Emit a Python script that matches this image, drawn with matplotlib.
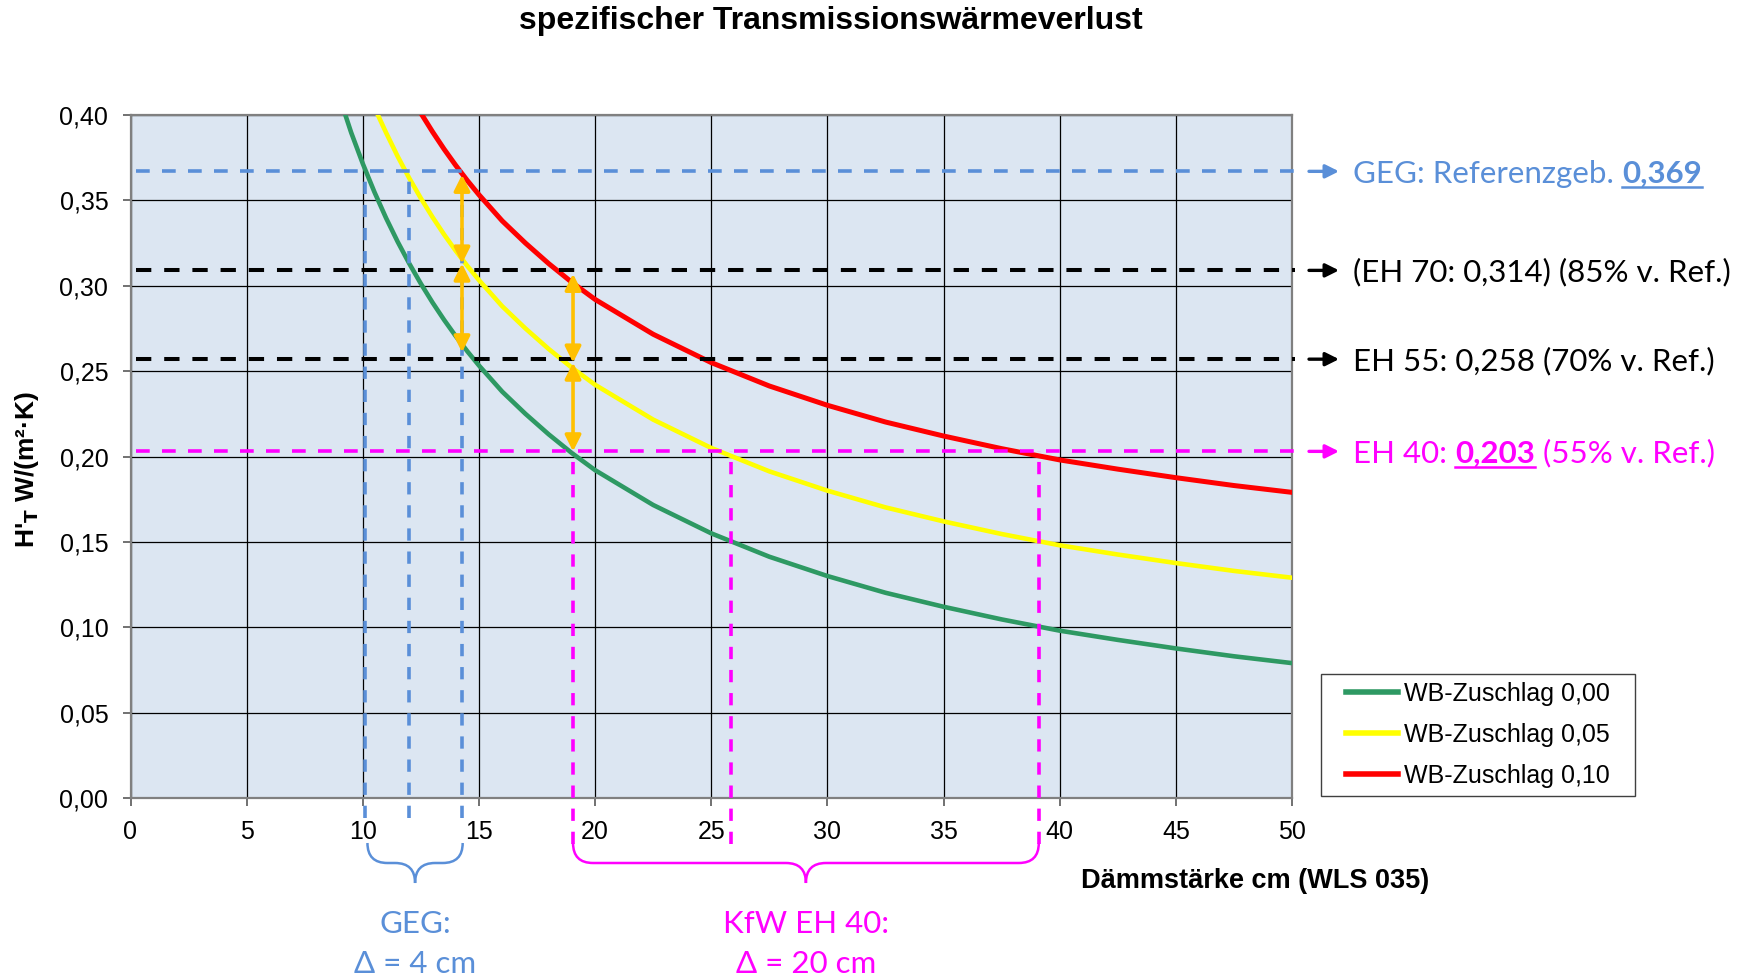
import numpy as np
import matplotlib
matplotlib.use("Agg")
import matplotlib.pyplot as plt
from matplotlib.path import Path
from matplotlib.patches import PathPatch, Rectangle
from matplotlib.lines import Line2D
from matplotlib.ticker import FuncFormatter
from matplotlib.transforms import IdentityTransform

plt.rcParams["font.family"] = ["Liberation Sans", "DejaVu Sans"]

# --- data ---
x_wb000 = [9.25, 9.5, 10, 10.5, 11, 11.5, 12, 12.5, 13, 13.5, 14, 14.5, 15, 16, 17, 18, 19, 20,
           22.5, 25, 27.5, 30, 32.5, 35, 37.5, 40, 42.5, 45, 47.5, 50]
h_wb000 = [0.400, 0.3897, 0.3715, 0.3549, 0.3397, 0.3258, 0.313, 0.3012, 0.2902, 0.280, 0.2705,
           0.2616, 0.2533, 0.238, 0.225, 0.213, 0.202, 0.192,
           0.1716, 0.155, 0.1413, 0.130, 0.1202, 0.112, 0.1046, 0.098, 0.0926, 0.0876, 0.083, 0.079]

x_wb005 = [10.65, 11, 11.5, 12, 12.5, 13, 13.5, 14, 14.5, 15, 16, 17, 18, 19, 20,
           22.5, 25, 27.5, 30, 32.5, 35, 37.5, 40, 42.5, 45, 47.5, 50]
h_wb005 = [0.400, 0.3897, 0.3758, 0.363, 0.3512, 0.3402, 0.330, 0.3205, 0.3116, 0.3033,
           0.288, 0.275, 0.263, 0.252, 0.242,
           0.2216, 0.205, 0.1913, 0.180, 0.1702, 0.162, 0.1546, 0.148, 0.1426, 0.1376, 0.133, 0.129]

x_wb010 = [12.55, 13, 13.5, 14, 14.5, 15, 16, 17, 18, 19, 20,
           22.5, 25, 27.5, 30, 32.5, 35, 37.5, 40, 42.5, 45, 47.5, 50]
h_wb010 = [0.400, 0.3902, 0.380, 0.3705, 0.3616, 0.3533, 0.338, 0.325, 0.313, 0.302, 0.292,
           0.2716, 0.255, 0.2413, 0.230, 0.2202, 0.212, 0.2046, 0.198, 0.1926, 0.1876, 0.183, 0.179]

series_labels = ["WB-Zuschlag 0,00", "WB-Zuschlag 0,05", "WB-Zuschlag 0,10"]

# reference levels (drawn height) and their labels
level_values = [0.367, 0.309, 0.257, 0.203]
level_parts = [
    [("GEG: Referenzgeb. ", "normal", False), ("0,369", "bold", True)],
    [("(EH 70: 0,314) (85% v. Ref.)", "normal", False)],
    [("EH 55: 0,258 (70% v. Ref.)", "normal", False)],
    [("EH 40: ", "normal", False), ("0,203", "bold", True), (" (55% v. Ref.)", "normal", False)],
]

geg_x = [10.1, 12.0, 14.27]      # thicknesses reaching GEG level
kfw_x = [19.05, 25.85, 39.1]     # thicknesses reaching EH 40 level

arrow_x = [14.27, 14.27, 19.05, 19.05]
arrow_y0 = [0.365, 0.313, 0.307, 0.255]
arrow_y1 = [0.313, 0.261, 0.255, 0.203]

brace_specs = [(10.2, 14.3, "GEG:", "Δ = 4 cm"),
               (19.05, 39.1, "KfW EH 40:", "Δ = 20 cm")]

# --- styles ---
GREEN = "#2E9963"
YELLOW = "#FFFF00"
RED = "#FF0000"
BLUE = "#5A8FD8"
MAGENTA = "#FF00FF"
ORANGE = "#FFC000"
level_colors = [BLUE, "black", "black", MAGENTA]
NOTE_FONT = ["Lato", "DejaVu Sans"]
NOTE_SIZE = 22.5

W, H = 1747, 977
fig = plt.figure(figsize=(W / 100, H / 100), dpi=100)
ax = fig.add_axes([130.5 / W, 1 - 798 / H, (1292 - 130.5) / W, (798 - 115) / H])
ax.set_facecolor("#DCE6F2")
ax.set_xlim(0, 50)
ax.set_ylim(0, 0.40)
ax.set_xticks(np.arange(0, 51, 5))
ax.set_yticks(np.arange(0, 0.401, 0.05))
ax.yaxis.set_major_formatter(FuncFormatter(lambda v, p: f"{v:.2f}".replace(".", ",")))
ax.grid(True, color="black", lw=0.9)
ax.set_axisbelow(True)
ax.tick_params(direction="out", length=6, width=1.2, color="#595959", labelsize=18)
ax.tick_params(axis="x", pad=10)
ax.tick_params(axis="y", pad=10)
for s in ax.spines.values():
    s.set_color("#808080")
    s.set_linewidth(1.6)

# curves
ax.plot(x_wb000, h_wb000, color=GREEN, lw=3.3, label=series_labels[0], zorder=3)
ax.plot(x_wb005, h_wb005, color=YELLOW, lw=3.3, label=series_labels[1], zorder=3)
ax.plot(x_wb010, h_wb010, color=RED, lw=3.6, label=series_labels[2], zorder=3)

# vertical markers
for xv in geg_x:
    ax.plot([xv, xv], [-0.012, level_values[0]], color=BLUE, lw=2.6, dashes=(3.4, 3.0),
            clip_on=False, zorder=4)
for xv in kfw_x:
    ax.plot([xv, xv], [-0.027, level_values[3]], color=MAGENTA, lw=2.6, dashes=(3.4, 3.0),
            clip_on=False, zorder=4)

# horizontal reference lines
for lv, c in zip(level_values, level_colors):
    if c == "black":
        lw, dash = 2.9, (3.8, 3.2)
    else:
        lw, dash = 2.6, (3.8, 3.4)
    ax.plot([0.25, 50.15], [lv, lv], color=c, lw=lw, dashes=dash, clip_on=False, zorder=4)

# orange double arrows
for xa, ya, yb in zip(arrow_x, arrow_y0, arrow_y1):
    ax.annotate("", xy=(xa, yb), xytext=(xa, ya),
                arrowprops=dict(arrowstyle="<|-|>", color=ORANGE, lw=2.6,
                                mutation_scale=24, shrinkA=0, shrinkB=0), zorder=6)

# legend: white box drawn separately, entries placed inside it
ax.add_patch(Rectangle((1321 / W, 181 / H), 314 / W, 122 / H, transform=fig.transFigure,
                       facecolor="white", edgecolor="#404040", lw=1.0, clip_on=False, zorder=9))
leg = ax.legend(loc="center", bbox_to_anchor=(1478 / W, 1 - 735 / H),
                bbox_transform=fig.transFigure, fontsize=18, frameon=False,
                borderaxespad=0, borderpad=0, handlelength=2.1, handletextpad=0.25,
                labelspacing=0.68)
leg.set_zorder(10)
for lh in leg.get_lines():
    lh.set_linewidth(4)

# braces below the x axis
px_x = (1292 - 130.5) / 50.0
px_y = (798 - 115) / 0.40
rx = 20 / px_x
ytop, ymid, ytip = -45 / px_y, -65 / px_y, -85 / px_y
for (x0, x1, t1, t2), c in zip(brace_specs, [BLUE, MAGENTA]):
    xc = (x0 + x1) / 2
    verts = [(x0, ytop), (x0, ymid), (x0 + rx, ymid), (xc - rx, ymid), (xc, ymid), (xc, ytip),
             (xc, ymid), (xc + rx, ymid), (x1 - rx, ymid), (x1, ymid), (x1, ytop)]
    codes = [Path.MOVETO, Path.CURVE3, Path.CURVE3, Path.LINETO, Path.CURVE3, Path.CURVE3,
             Path.CURVE3, Path.CURVE3, Path.LINETO, Path.CURVE3, Path.CURVE3]
    ax.add_patch(PathPatch(Path(verts, codes), fill=False, edgecolor=c, lw=1.8, clip_on=False))
    ax.text(xc, -126 / px_y, t1, color=c, ha="center", va="center", fontsize=NOTE_SIZE,
            family=NOTE_FONT, clip_on=False)
    ax.text(xc, -166 / px_y, t2, color=c, ha="center", va="center", fontsize=NOTE_SIZE,
            family=NOTE_FONT, clip_on=False)

# right-hand labels with arrows
renderer = fig.canvas.get_renderer()
cap = 0.72 * NOTE_SIZE * 100 / 72
for lv, c, parts in zip(level_values, level_colors, level_parts):
    yd = ax.transData.transform((0, lv))[1]
    ax.annotate("", xy=(1339, yd), xytext=(1309, yd), xycoords="figure pixels",
                textcoords="figure pixels",
                arrowprops=dict(arrowstyle="-|>", color=c, lw=2.4, mutation_scale=20,
                                shrinkA=0, shrinkB=0))
    xcur = 1353
    for txt, wt, ul in parts:
        t = fig.text(xcur / W, (yd - cap / 2) / H, txt, color=c, fontsize=NOTE_SIZE,
                     fontweight=wt, family=NOTE_FONT, ha="left", va="baseline")
        bb = t.get_window_extent(renderer)
        if ul:
            fig.add_artist(Line2D([bb.x0, bb.x1], [yd - cap / 2 - 4, yd - cap / 2 - 4],
                                  color=c, lw=1.8, transform=IdentityTransform()))
        xcur = bb.x1

# titles and axis labels
fig.text(831 / W, 1 - 21 / H, "spezifischer Transmissionswärmeverlust", ha="center", va="center",
         fontsize=23, fontweight="bold")
fig.text(1255 / W, 1 - 881 / H, "Dämmstärke cm (WLS 035)", ha="center", va="center",
         fontsize=19.5, fontweight="bold")
fig.text(27 / W, 1 - 470 / H, r"H'$_\mathbf{T}$ W/(m²·K)", ha="center", va="center",
         rotation=90, fontsize=19, fontweight="bold")

fig.savefig("out.png", dpi=100)
